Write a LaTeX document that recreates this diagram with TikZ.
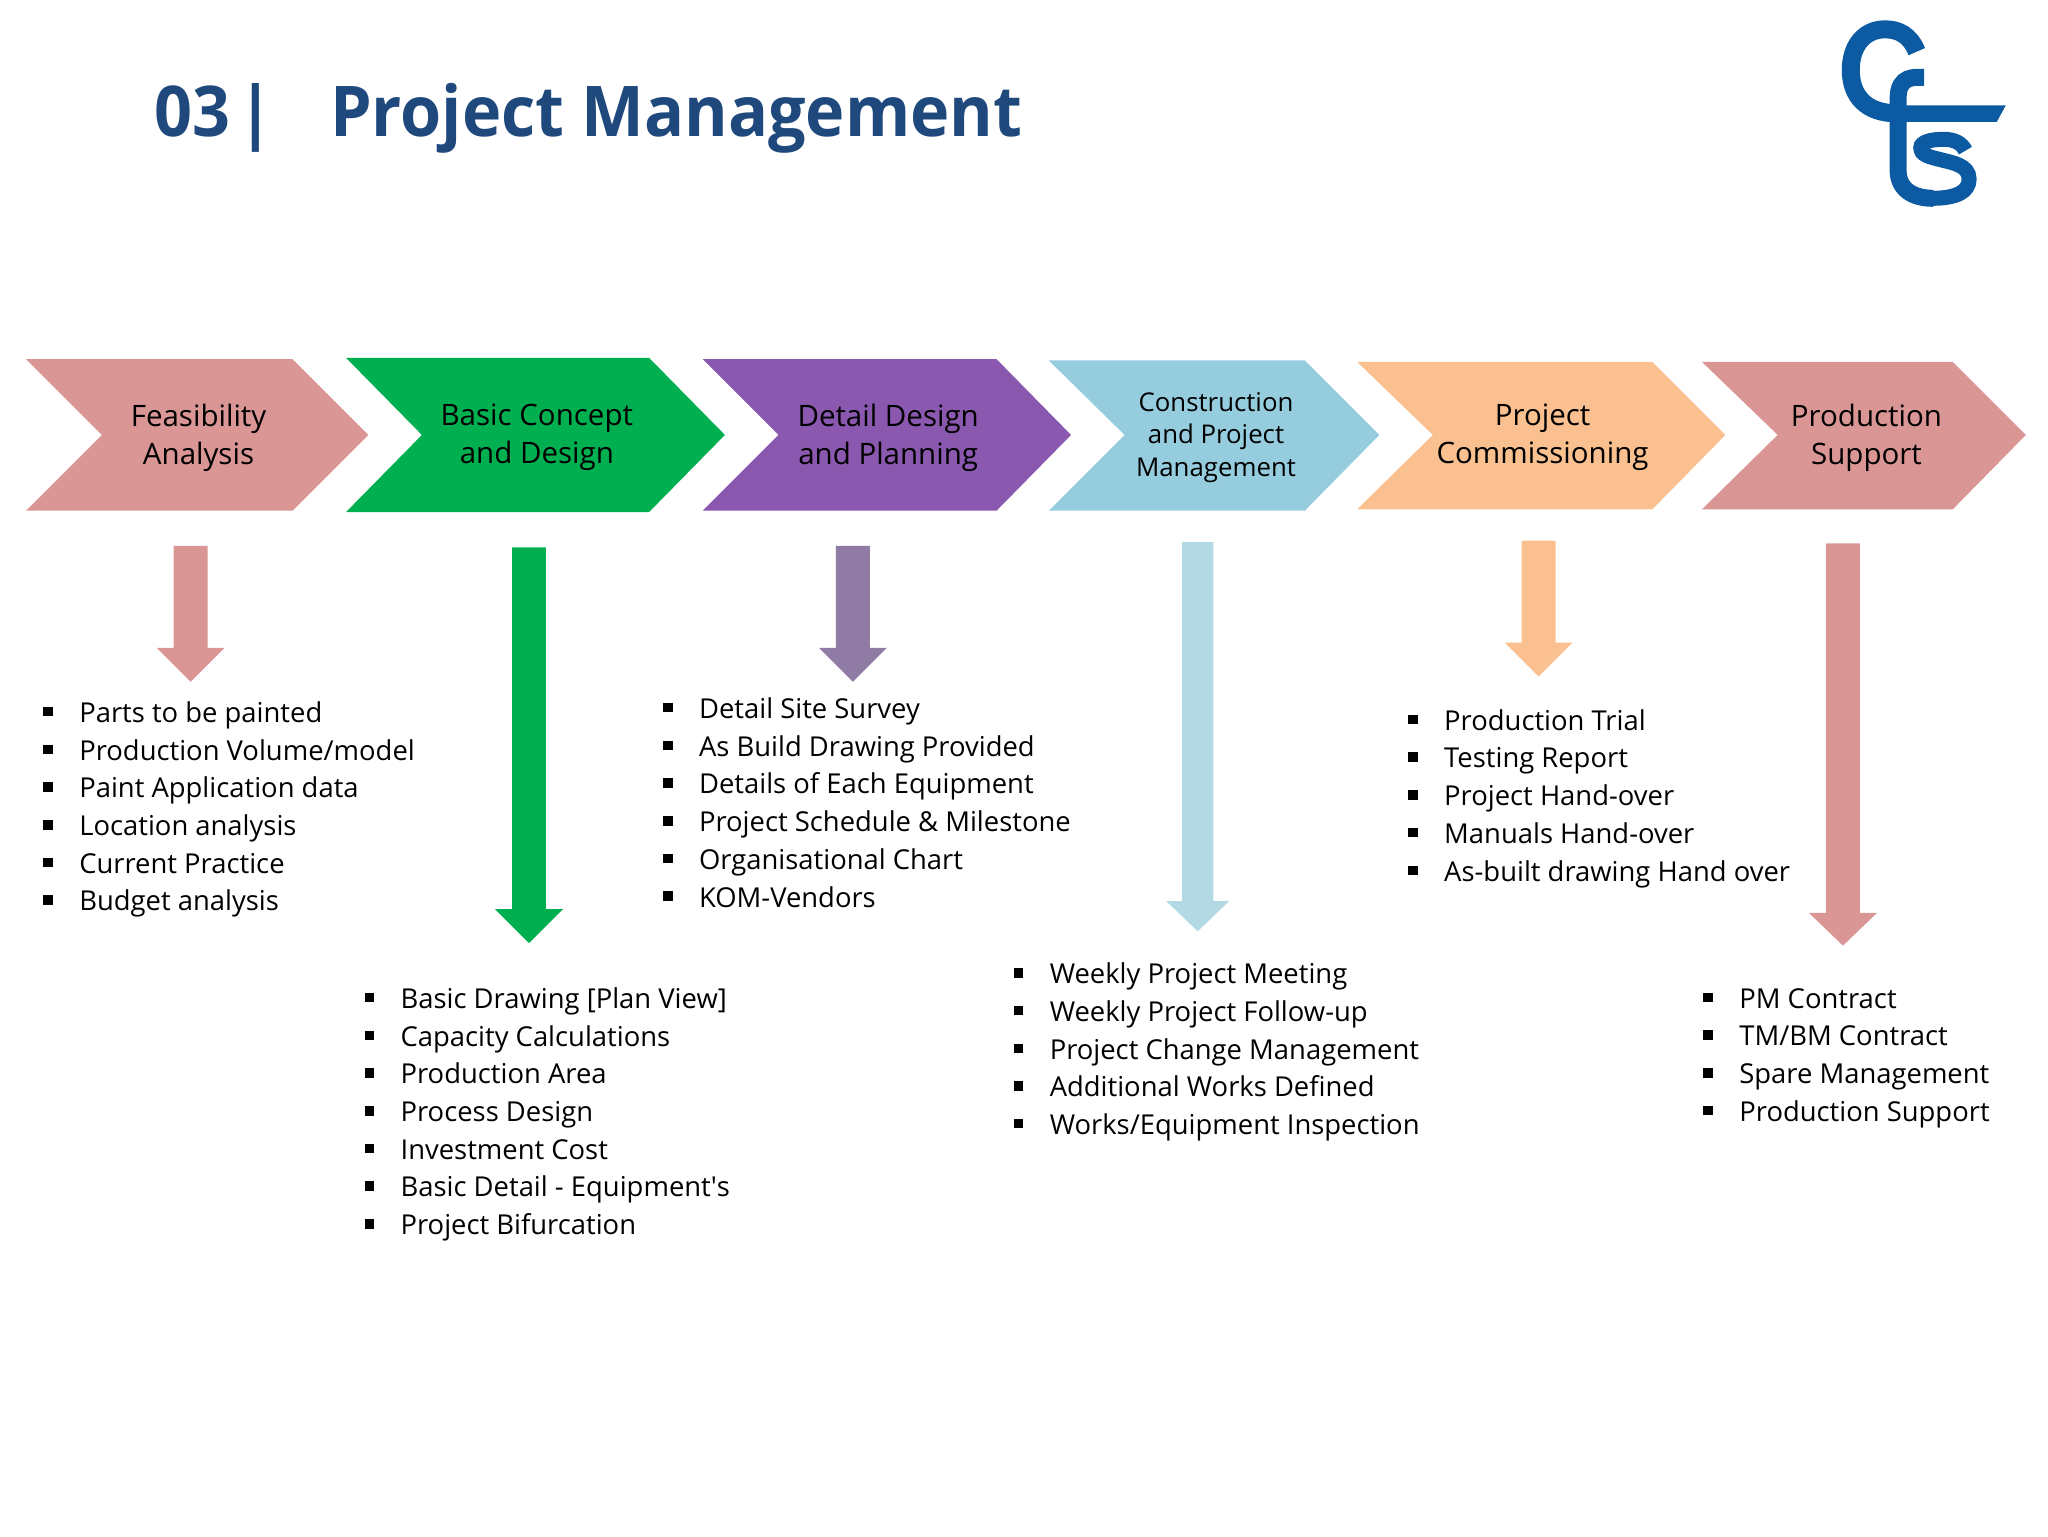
\documentclass[tikz,border=0pt]{standalone}
\usepackage{fontspec}
\setmainfont{Open Sans}
\newfontfamily\titlefont[FakeStretch=0.95]{Open Sans}
\definecolor{titleblue}{HTML}{1F497D}
\definecolor{logoblue}{HTML}{0C5AA2}
\definecolor{pinkfill}{HTML}{D99694}
\definecolor{greenfill}{HTML}{00B050}
\definecolor{purplefill}{HTML}{8A58AF}
\definecolor{greyfill}{HTML}{8F7BA3}
\definecolor{bluefill}{HTML}{95CCDE}
\definecolor{paleblue}{HTML}{B2D9E4}
\definecolor{orangefill}{HTML}{FAC090}
\newcommand{\itm}{\makebox[36pt][l]{\rule[6pt]{9.5pt}{9.5pt}}}
\tikzset{
    stagelabel/.style={align=center, text=black, inner sep=0pt, font=\fontsize{29.5}{37.7}\selectfont},
    smalllabel/.style={align=center, text=black, inner sep=0pt, font=\fontsize{25.8}{32.6}\selectfont},
    itemlist/.style={align=left, anchor=north west, text=black, inner sep=0pt, font=\fontsize{27.4}{37.7}\selectfont},
    titletext/.style={anchor=base west, inner sep=0pt, text=titleblue, font=\titlefont\fontsize{70}{70}\selectfont\bfseries},
    logoline/.style={draw=logoblue, line cap=butt}
}
\begin{document}
\begin{tikzpicture}[x=1.3061pt, y=-1.3061pt]
    \useasboundingbox (0,0) rectangle (1568,1176);

    % title
    \node[titletext] (number) at (118.5,104.5) {03};
    \node[titletext] (bar) at (182,104.5) {|};
    \node[titletext] (title) at (252.5,104.5) {Project Management};

    % logo
    \begin{scope}[shift={(1378.2,0)}, x=0.3333pt, y=-0.3333pt]
        \draw[logoline, line width=18pt] (350,155) .. controls (330,105) and (295,88) .. (255,88) .. controls (190,88) and (152,140) .. (152,210) .. controls (152,290) and (200,340) .. (290,340);
        \fill[logoblue] (300,316) -- (617,316) -- (590,366) -- (280,366) -- cycle;
        \draw[logoline, line width=17pt] (372,232) .. controls (345,232) and (294,225) .. (294,295) -- (294,510) .. controls (294,570) and (340,595) .. (400,595);
        \draw[logoline, line width=15pt] (395,595) .. controls (470,595) and (507,575) .. (507,537) .. controls (507,495) and (455,488) .. (425,480) .. controls (385,470) and (362,465) .. (362,443) .. controls (362,425) and (395,418) .. (430,418) .. controls (465,418) and (485,430) .. (496,452);
    \end{scope}

    % chevrons
    \fill[pinkfill] (20,275) -- (224,275) -- (282,333) -- (224,391) -- (20,391) -- (78,333) -- cycle;
    \fill[greenfill] (265,274) -- (497,274) -- (555,333) -- (497,392) -- (265,392) -- (323,333) -- cycle;
    \fill[purplefill] (538,275) -- (763,275) -- (820,333) -- (763,391) -- (538,391) -- (596,333) -- cycle;
    \fill[bluefill] (803,276) -- (999,276) -- (1056,333) -- (999,391) -- (803,391) -- (861,333) -- cycle;
    \fill[orangefill] (1039,277) -- (1265,277) -- (1321,333) -- (1265,390) -- (1039,390) -- (1097,333) -- cycle;
    \fill[pinkfill] (1303,277) -- (1495,277) -- (1551,333) -- (1495,390) -- (1303,390) -- (1361,333) -- cycle;

    \node[stagelabel] (feasibility) at (152,335) {Feasibility\\Analysis};
    \node[stagelabel] (concept) at (411,335) {Basic Concept\\and Design};
    \node[stagelabel] (detail) at (680,335) {Detail Design\\and Planning};
    \node[smalllabel] (construction) at (931,335) {Construction\\and Project\\Management};
    \node[stagelabel] (commissioning) at (1181,335) {Project\\Commissioning};
    \node[stagelabel] (support) at (1429,335) {Production\\Support};

    % arrows
    \fill[pinkfill] (133,418) -- (159,418) -- (159,496) -- (172,496) -- (146,522) -- (120,496) -- (133,496) -- cycle;
    \fill[greenfill] (392,419) -- (418,419) -- (418,696) -- (431,696) -- (405,722) -- (379,696) -- (392,696) -- cycle;
    \fill[greyfill] (640,418) -- (666,418) -- (666,496) -- (679,496) -- (653,522) -- (627,496) -- (640,496) -- cycle;
    \fill[paleblue] (905,415) -- (929,415) -- (929,690) -- (941,690) -- (917,713) -- (893,690) -- (905,690) -- cycle;
    \fill[orangefill] (1165,414) -- (1191,414) -- (1191,492) -- (1204,492) -- (1178,518) -- (1152,492) -- (1165,492) -- cycle;
    \fill[pinkfill] (1398,416) -- (1424,416) -- (1424,699) -- (1437,699) -- (1411,724) -- (1385,699) -- (1398,699) -- cycle;

    % lists
    \node[itemlist] (feasibilitylist) at (33,537) {\itm Parts to be painted\\\itm Production Volume/model\\\itm Paint Application data\\\itm Location analysis\\\itm Current Practice\\\itm Budget analysis};
    \node[itemlist] (conceptlist) at (279,756) {\itm Basic Drawing [Plan View]\\\itm Capacity Calculations\\\itm Production Area\\\itm Process Design\\\itm Investment Cost\\\itm Basic Detail - Equipment\textquotesingle s\\\itm Project Bifurcation};
    \node[itemlist] (detaillist) at (507.5,534) {\itm Detail Site Survey\\\itm As Build Drawing Provided\\\itm Details of Each Equipment\\\itm Project Schedule \& Milestone\\\itm Organisational Chart\\\itm KOM-Vendors};
    \node[itemlist] (constructionlist) at (776,737) {\itm Weekly Project Meeting\\\itm Weekly Project Follow-up\\\itm Project Change Management\\\itm Additional Works Defined\\\itm Works/Equipment Inspection};
    \node[itemlist] (commissioninglist) at (1078,543) {\itm Production Trial\\\itm Testing Report\\\itm Project Hand-over\\\itm Manuals Hand-over\\\itm As-built drawing Hand over};
    \node[itemlist] (supportlist) at (1304,756.5) {\itm PM Contract\\\itm TM/BM Contract\\\itm Spare Management\\\itm Production Support};
\end{tikzpicture}
\end{document}
